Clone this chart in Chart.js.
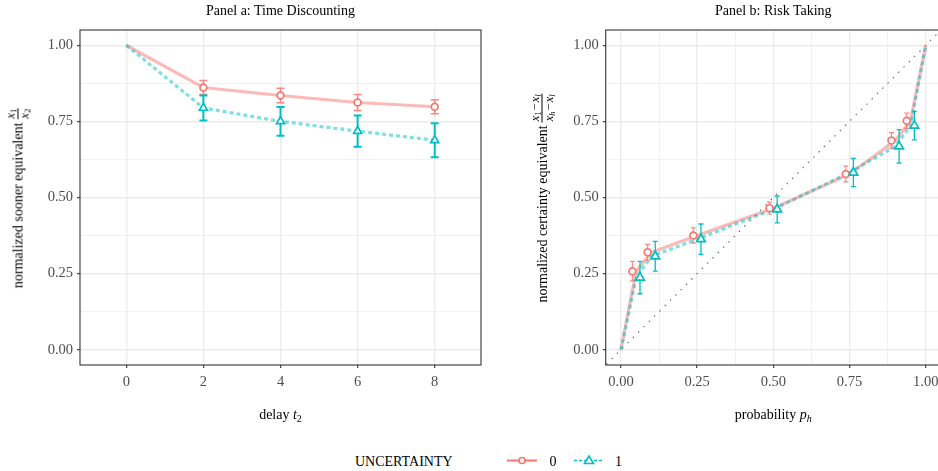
<!DOCTYPE html>
<html>
<head>
<meta charset="utf-8">
<script src="https://cdn.jsdelivr.net/npm/chart.js@4.4.1/dist/chart.umd.min.js"></script>
<style>
  html, body { margin: 0; padding: 0; background: #fff; }
  body { width: 938px; height: 471px; overflow: hidden; position: relative; font-family: 'Liberation Serif', 'DejaVu Serif', serif; color: #000; }
  .pane { position: absolute; top: 0; }
  .txt { position: absolute; font-size: 14px; line-height: 14px; white-space: nowrap; }
  .ptitle, .xtitle { transform: translateX(-50%); }
  .xtitle sub { font-size: 10px; line-height: 0; vertical-align: -3px; }
  .ytitle { position: absolute; display: flex; align-items: center; gap: 3px; font-size: 14px; line-height: 14px; white-space: nowrap; transform: translate(-50%, -50%) rotate(-90deg); }
  .frac { display: inline-flex; flex-direction: column; align-items: center; font-size: 12.5px; line-height: 11px; }
  .frac .num { border-bottom: 0.9px solid #000; padding: 0 1px 1px; }
  .frac .den { padding: 1px 1px 0; }
  .frac sub { font-size: 8.5px; line-height: 0; vertical-align: -2px; }
  svg { position: absolute; }
</style>
</head>
<body>
<div class="pane" style="left:0"><canvas id="chartA" width="490" height="440"></canvas></div>
<div class="pane" style="left:480px"><canvas id="chartB" width="470" height="440"></canvas></div>

<div class="txt ptitle" style="left:280.5px; top:4.3px">Panel a: Time Discounting</div>
<div class="txt ptitle" style="left:773.3px; top:4.3px">Panel b: Risk Taking</div>

<div class="txt xtitle" style="left:280.5px; top:407.8px">delay <i>t</i><sub>2</sub></div>
<div class="txt xtitle" style="left:773.3px; top:407.8px">probability <i>p<sub>h</sub></i></div>

<div class="ytitle" style="left:18px; top:197.5px">
  <span>normalized sooner equivalent</span>
  <span class="frac"><span class="num"><i>x</i><sub>1</sub></span><span class="den"><i>x</i><sub>2</sub></span></span>
</div>
<div class="ytitle" style="left:542px; top:197.5px">
  <span>normalized certainty equivalent</span>
  <span class="frac"><span class="num"><i>x</i><sub>1</sub>&#8202;&minus;&#8202;<i>x<sub>l</sub></i></span><span class="den"><i>x<sub>h</sub></i>&#8202;&minus;&#8202;<i>x<sub>l</sub></i></span></span>
</div>

<div class="txt" style="left:355px; top:454.8px">UNCERTAINTY</div>
<svg style="left:505px; top:452px" width="35" height="17">
  <line x1="2" y1="8.5" x2="32" y2="8.5" stroke="#F8766D" stroke-width="2"/>
  <circle cx="17" cy="8.5" r="3" fill="#fff" stroke="#F8766D" stroke-width="1.6"/>
</svg>
<div class="txt" style="left:549.5px; top:454.8px">0</div>
<svg style="left:572px; top:452px" width="35" height="17">
  <line x1="2" y1="8.5" x2="32" y2="8.5" stroke="#00BFC4" stroke-width="1.6" stroke-dasharray="3,2"/>
  <polygon points="17,4 21.5,11.5 12.5,11.5" fill="#fff" stroke="#00BFC4" stroke-width="1.6"/>
</svg>
<div class="txt" style="left:615px; top:454.8px">1</div>

<script>
// panel a: time discounting
var delays = [0, 2, 4, 6, 8];
var sooner0 = [1.00, 0.861, 0.835, 0.812, 0.798];
var sooner0Err = [0, 0.023, 0.024, 0.026, 0.023];
var sooner1 = [1.00, 0.794, 0.750, 0.718, 0.688];
var sooner1Err = [0, 0.041, 0.047, 0.051, 0.056];

// panel b: risk taking
var probs = [0, 0.05, 0.10, 0.25, 0.50, 0.75, 0.90, 0.95, 1];
var certainty0 = [0, 0.258, 0.320, 0.375, 0.465, 0.577, 0.687, 0.752, 1];
var certainty0Err = [0, 0.032, 0.026, 0.025, 0.020, 0.026, 0.026, 0.025, 0];
var certainty1 = [0, 0.237, 0.307, 0.363, 0.461, 0.582, 0.668, 0.736, 1];
var certainty1Err = [0, 0.053, 0.049, 0.050, 0.044, 0.046, 0.055, 0.047, 0];
var diagonal = [-0.1, 1.1];

// ticks
var delayTicks = [0, 2, 4, 6, 8];
var unitMajor = [0, 0.25, 0.5, 0.75, 1];
var unitMinor = [0.125, 0.375, 0.625, 0.875];

var RED = '#F8766D';
var CYAN = '#00BFC4';
var FONT = "'Liberation Serif', 'DejaVu Serif', serif";

function isMajor(v) {
  for (var i = 0; i < unitMajor.length; i++) {
    if (Math.abs(unitMajor[i] - v) < 1e-9) return true;
  }
  return false;
}

function unitTicks() {
  return unitMajor.concat(unitMinor).sort(function (a, b) { return a - b; });
}

function lineData(xs, ys) {
  var out = [];
  for (var i = 0; i < xs.length; i++) out.push({ x: xs[i], y: ys[i] });
  return out;
}

function markerData(xs, ys, errs, shift) {
  var out = [];
  for (var i = 0; i < xs.length; i++) {
    if (errs[i] > 0) out.push({ x: xs[i] + shift, y: ys[i] });
  }
  return out;
}

function markerErrs(errs) {
  return errs.filter(function (e) { return e > 0; });
}

// error bars under the markers, plus the panel frame
var panelExtras = {
  id: 'panelExtras',
  beforeDatasetDraw: function (chart, args) {
    var ds = chart.data.datasets[args.index];
    if (!ds.errs) return;
    var xs = chart.scales.x, ys = chart.scales.y, c = chart.ctx;
    c.save();
    c.strokeStyle = ds.errColor;
    c.lineWidth = ds.errWidth;
    for (var i = 0; i < ds.data.length; i++) {
      var p = ds.data[i], e = ds.errs[i];
      var px = xs.getPixelForValue(p.x);
      var y1 = ys.getPixelForValue(p.y + e);
      var y2 = ys.getPixelForValue(p.y - e);
      var w = ds.errCap;
      c.beginPath();
      c.moveTo(px, y1); c.lineTo(px, y2);
      c.moveTo(px - w, y1); c.lineTo(px + w, y1);
      c.moveTo(px - w, y2); c.lineTo(px + w, y2);
      c.stroke();
    }
    c.restore();
  },
  afterDraw: function (chart) {
    var a = chart.chartArea, c = chart.ctx;
    c.save();
    c.strokeStyle = '#333333';
    c.lineWidth = 1.1;
    c.strokeRect(a.left, a.top, a.right - a.left, a.bottom - a.top);
    c.restore();
  },
};

function axisX(min, max, ticks, fmt) {
  return {
    type: 'linear', min: min, max: max,
    afterBuildTicks: function (s) { s.ticks = ticks.map(function (v) { return { value: v }; }); },
    afterFit: function (s) { s.height = 75; },
    border: { display: false },
    grid: {
      color: '#ebebeb',
      lineWidth: function (ctx) { return isMajor(ctx.tick.value) || ticks === delayTicks ? 1.4 : 0.7; },
      tickColor: function (ctx) { return isMajor(ctx.tick.value) || ticks === delayTicks ? '#333333' : 'rgba(0,0,0,0)'; },
      tickWidth: 1.1,
      tickLength: 3,
    },
    ticks: {
      autoSkip: false, maxRotation: 0, padding: 5,
      color: '#4d4d4d', font: { family: FONT, size: 14.5 },
      callback: fmt,
    },
  };
}

function axisY(width) {
  return {
    type: 'linear', min: -0.05, max: 1.05,
    afterBuildTicks: function (s) { s.ticks = unitTicks().map(function (v) { return { value: v }; }); },
    afterFit: function (s) { s.width = width; },
    border: { display: false },
    grid: {
      color: '#ebebeb',
      lineWidth: function (ctx) { return isMajor(ctx.tick.value) ? 1.4 : 0.7; },
      tickColor: function (ctx) { return isMajor(ctx.tick.value) ? '#333333' : 'rgba(0,0,0,0)'; },
      tickWidth: 1.1,
      tickLength: 3,
    },
    ticks: {
      autoSkip: false, padding: 4,
      color: '#4d4d4d', font: { family: FONT, size: 14.5 },
      callback: function (v) { return isMajor(v) ? v.toFixed(2) : ''; },
    },
  };
}

function seriesSets(xs, y0, e0, y1, e1, dodge, bar) {
  return [
    {
      data: markerData(xs, y0, e0, -dodge), errs: markerErrs(e0),
      errColor: 'rgba(248,118,109,0.85)', errWidth: bar.w0, errCap: bar.cap,
      showLine: false, pointStyle: 'circle', pointRadius: 3.4,
      pointBorderColor: RED, pointBackgroundColor: '#fff', pointBorderWidth: 1.7, order: 2,
    },
    {
      data: markerData(xs, y1, e1, dodge), errs: markerErrs(e1),
      errColor: CYAN, errWidth: bar.w1, errCap: bar.cap,
      showLine: false, pointStyle: 'triangle', pointRadius: bar.tri,
      pointBorderColor: CYAN, pointBackgroundColor: '#fff', pointBorderWidth: 1.7, order: 1,
    },
    {
      data: lineData(xs, y1), showLine: true, pointRadius: 0,
      borderColor: 'rgba(0,191,196,0.5)', borderWidth: 3.2, borderDash: [4, 3], order: 3,
    },
    {
      data: lineData(xs, y0), showLine: true, pointRadius: 0,
      borderColor: 'rgba(248,118,109,0.5)', borderWidth: 3.2, order: 4,
    },
  ];
}

function baseOptions(xAxis, yAxis) {
  return {
    responsive: false,
    animation: false,
    events: [],
    layout: { padding: { left: 0, right: 9, top: 30, bottom: 0 } },
    plugins: { legend: { display: false }, tooltip: { enabled: false }, title: { display: false } },
    scales: { x: xAxis, y: yAxis },
  };
}

new Chart(document.getElementById('chartA'), {
  type: 'scatter',
  data: {
    datasets: seriesSets(delays, sooner0, sooner0Err, sooner1, sooner1Err, 0,
      { w0: 1.5, w1: 2, cap: 4, tri: 4.6 }),
  },
  options: baseOptions(
    axisX(-1.2, 9.2, delayTicks, function (v) { return String(v); }),
    axisY(80)
  ),
  plugins: [panelExtras],
});

var setsB = seriesSets(probs, certainty0, certainty0Err, certainty1, certainty1Err, 0.0125,
  { w0: 1.2, w1: 1.3, cap: 2.5, tri: 5 });
setsB.push({
  data: lineData(diagonal, diagonal), showLine: true, pointRadius: 0,
  borderColor: '#666666', borderWidth: 1.1, borderDash: [1.5, 6], order: 5,
});

new Chart(document.getElementById('chartB'), {
  type: 'scatter',
  data: { datasets: setsB },
  options: baseOptions(
    axisX(-0.05, 1.05, unitTicks(), function (v) { return isMajor(v) ? v.toFixed(2) : ''; }),
    axisY(125.7)
  ),
  plugins: [panelExtras],
});
</script>
</body>
</html>
